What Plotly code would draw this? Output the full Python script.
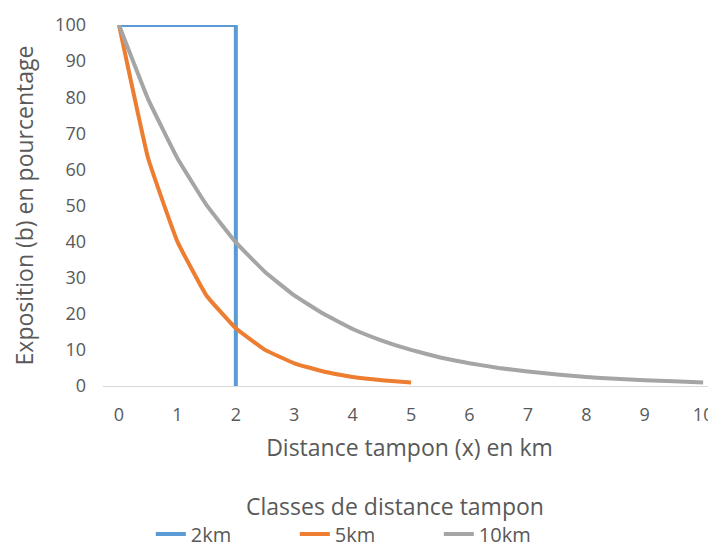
import plotly.graph_objects as go

# Data
x_2km = [0, 2, 2]
y_2km = [100, 100, 0]

x_5km = [0, 0.5, 1, 1.5, 2, 2.5, 3, 3.5, 4, 4.5, 5]
y_5km = [100, 63, 40, 25, 16, 10, 6.3, 4, 2.5, 1.6, 1]

x_10km = [0, 0.5, 1, 1.5, 2, 2.5, 3, 3.5, 4, 4.5, 5, 5.5, 6, 6.5, 7, 7.5, 8, 8.5, 9, 9.5, 10]
y_10km = [100, 79.4, 63.1, 50.1, 39.8, 31.6, 25.1, 20, 15.8, 12.6, 10, 7.9, 6.3, 5, 4, 3.2, 2.5, 2, 1.6, 1.3, 1]

x_ticks = [0, 1, 2, 3, 4, 5, 6, 7, 8, 9, 10]
y_ticks = [0, 10, 20, 30, 40, 50, 60, 70, 80, 90, 100]

FONT = "Open Sans"
TXT = "#595959"

fig = go.Figure()
fig.add_trace(go.Scatter(x=x_2km, y=y_2km, mode="lines", name="2km",
                         line=dict(color="#5B9BD5", width=4), cliponaxis=False))
fig.add_trace(go.Scatter(x=x_5km, y=y_5km, mode="lines", name="5km",
                         line=dict(color="#ED7D31", width=4, shape="spline", smoothing=0.3), cliponaxis=False))
fig.add_trace(go.Scatter(x=x_10km, y=y_10km, mode="lines", name="10km",
                         line=dict(color="#A5A5A5", width=4, shape="spline", smoothing=0.3), cliponaxis=False))

fig.update_layout(
    width=708, height=540,
    margin=dict(l=95, r=0, t=17, b=162),
    paper_bgcolor="white", plot_bgcolor="white",
    font=dict(family=FONT, size=18, color=TXT),
    xaxis=dict(range=[-0.274, 10.22], tickvals=x_ticks, showgrid=False, zeroline=False,
               showline=True, linecolor="#D9D9D9", linewidth=1, ticks="", automargin=False,
               tickfont=dict(size=18, color=TXT), ticklabelstandoff=12, ticklabeloverflow="allow",
               title=dict(text="Distance tampon (x) en km", font=dict(size=23, color=TXT), standoff=15)),
    yaxis=dict(range=[0, 100], tickvals=y_ticks, showgrid=False, zeroline=False,
               showline=False, ticks="", automargin=False, tickfont=dict(size=18, color=TXT),
               ticklabelstandoff=16,
               title=dict(text="Exposition (b) en pourcentage", font=dict(size=23, color=TXT), standoff=24)),
    showlegend=True,
    legend=dict(orientation="h", x=0.078, xanchor="left",
                yref="container", y=0.026, yanchor="middle",
                font=dict(size=20, color=TXT), itemwidth=30,
                entrywidth=99, entrywidthmode="pixels",
                bgcolor="rgba(0,0,0,0)"),
    annotations=[dict(text="Classes de distance tampon", xref="paper", yref="paper",
                      x=0.476, y=-0.332, xanchor="center", yanchor="middle",
                      showarrow=False, font=dict(size=23, color=TXT))],
)

fig.write_html("out.html")
